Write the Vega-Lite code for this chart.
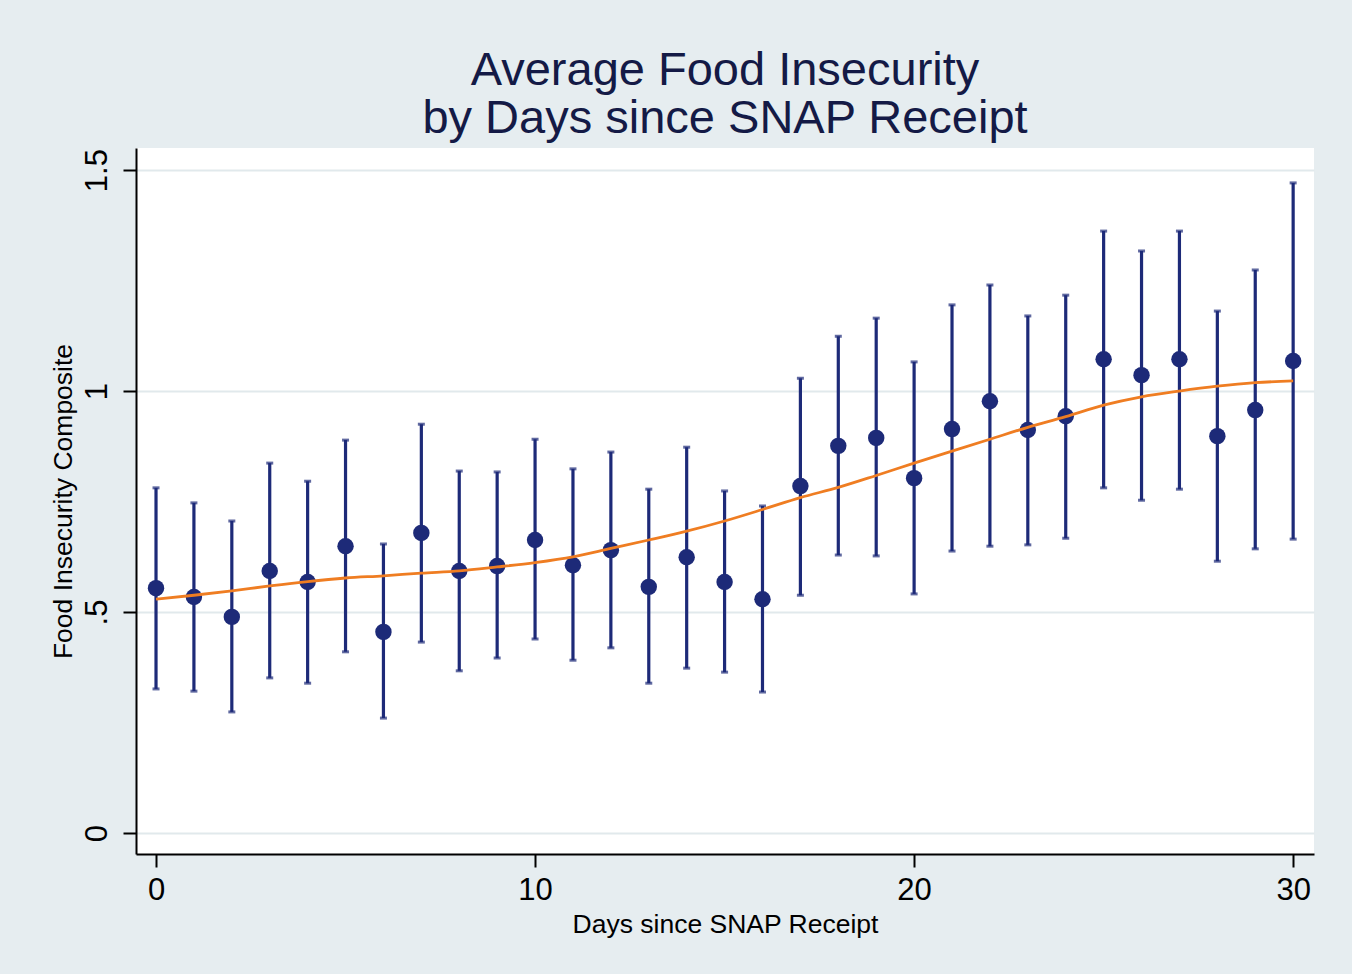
{
  "$schema": "https://vega.github.io/schema/vega-lite/v6.json",
  "autosize": {"type": "none"},
  "padding": {"left": 136, "top": 148, "right": 38, "bottom": 120},
  "width": 1178,
  "height": 706,
  "background": "#e6edf0",
  "config": {
    "view": {"fill": "white", "stroke": null},
    "font": "Liberation Sans",
    "axis": {
      "domainColor": "black", "domainWidth": 2,
      "tickColor": "black", "tickWidth": 2, "tickSize": 13,
      "labelColor": "black", "labelFontSize": 31, "labelFont": "Liberation Sans",
      "titleColor": "black", "titleFontSize": 26.5, "titleFontWeight": "normal", "titleFont": "Liberation Sans"
    }
  },
  "title": {
    "text": ["Average Food Insecurity", "by Days since SNAP Receipt"],
    "fontSize": 47, "fontWeight": "normal", "color": "#141a46",
    "font": "Liberation Sans", "anchor": "middle", "lineHeight": 48, "offset": 5
  },
  "data": {
    "values": [
      {"day": 0, "mean": 0.554, "lo": 0.326, "hi": 0.781, "fit": 0.529},
      {"day": 1, "mean": 0.534, "lo": 0.321, "hi": 0.747, "fit": 0.538},
      {"day": 2, "mean": 0.489, "lo": 0.274, "hi": 0.706, "fit": 0.548},
      {"day": 3, "mean": 0.593, "lo": 0.351, "hi": 0.837, "fit": 0.559},
      {"day": 4, "mean": 0.568, "lo": 0.339, "hi": 0.796, "fit": 0.569},
      {"day": 5, "mean": 0.649, "lo": 0.410, "hi": 0.889, "fit": 0.577},
      {"day": 6, "mean": 0.455, "lo": 0.260, "hi": 0.654, "fit": 0.582},
      {"day": 7, "mean": 0.679, "lo": 0.432, "hi": 0.925, "fit": 0.588},
      {"day": 8, "mean": 0.593, "lo": 0.367, "hi": 0.819, "fit": 0.593},
      {"day": 9, "mean": 0.604, "lo": 0.396, "hi": 0.817, "fit": 0.602},
      {"day": 10, "mean": 0.663, "lo": 0.439, "hi": 0.891, "fit": 0.612},
      {"day": 11, "mean": 0.606, "lo": 0.391, "hi": 0.824, "fit": 0.625},
      {"day": 12, "mean": 0.640, "lo": 0.419, "hi": 0.862, "fit": 0.644},
      {"day": 13, "mean": 0.557, "lo": 0.339, "hi": 0.778, "fit": 0.663},
      {"day": 14, "mean": 0.624, "lo": 0.373, "hi": 0.873, "fit": 0.683},
      {"day": 15, "mean": 0.568, "lo": 0.364, "hi": 0.774, "fit": 0.706},
      {"day": 16, "mean": 0.529, "lo": 0.319, "hi": 0.740, "fit": 0.732},
      {"day": 17, "mean": 0.785, "lo": 0.538, "hi": 1.029, "fit": 0.759},
      {"day": 18, "mean": 0.876, "lo": 0.629, "hi": 1.124, "fit": 0.782},
      {"day": 19, "mean": 0.894, "lo": 0.627, "hi": 1.165, "fit": 0.809},
      {"day": 20, "mean": 0.803, "lo": 0.541, "hi": 1.066, "fit": 0.837},
      {"day": 21, "mean": 0.914, "lo": 0.638, "hi": 1.195, "fit": 0.864},
      {"day": 22, "mean": 0.977, "lo": 0.649, "hi": 1.240, "fit": 0.891},
      {"day": 23, "mean": 0.912, "lo": 0.652, "hi": 1.170, "fit": 0.918},
      {"day": 24, "mean": 0.943, "lo": 0.667, "hi": 1.217, "fit": 0.942},
      {"day": 25, "mean": 1.072, "lo": 0.781, "hi": 1.362, "fit": 0.968},
      {"day": 26, "mean": 1.036, "lo": 0.753, "hi": 1.317, "fit": 0.987},
      {"day": 27, "mean": 1.072, "lo": 0.778, "hi": 1.362, "fit": 1.000},
      {"day": 28, "mean": 0.898, "lo": 0.615, "hi": 1.181, "fit": 1.011},
      {"day": 29, "mean": 0.957, "lo": 0.643, "hi": 1.274, "fit": 1.019},
      {"day": 30, "mean": 1.068, "lo": 0.665, "hi": 1.471, "fit": 1.023}
    ]
  },
  "encoding": {
    "x": {
      "field": "day", "type": "quantitative",
      "scale": {"domain": [-0.528, 30.55], "nice": false, "zero": false},
      "axis": {"values": [0, 10, 20, 30], "grid": false, "title": "Days since SNAP Receipt", "labelPadding": 8, "titlePadding": 6, "labelFlush": false}
    }
  },
  "layer": [
    {
      "mark": {"type": "rule", "color": "#1d2a78", "strokeWidth": 3.2},
      "encoding": {
        "y": {
          "field": "lo", "type": "quantitative",
          "scale": {"domain": [-0.0475, 1.55], "nice": false, "zero": false},
          "axis": {
            "values": [0, 0.5, 1, 1.5], "grid": true, "gridColor": "#e1e9ec", "gridWidth": 2,
            "labelAngle": -90, "labelPadding": 10, "labelFlush": false,
            "labelExpr": "datum.value == 0 ? '0' : datum.value == 0.5 ? '.5' : datum.value == 1 ? '1' : '1.5'",
            "title": "Food Insecurity Composite", "titlePadding": 4
          }
        },
        "y2": {"field": "hi"}
      }
    },
    {
      "mark": {"type": "tick", "orient": "horizontal", "color": "#1d2a78", "size": 7, "thickness": 3},
      "encoding": {"y": {"field": "lo", "type": "quantitative"}}
    },
    {
      "mark": {"type": "tick", "orient": "horizontal", "color": "#1d2a78", "size": 7, "thickness": 3},
      "encoding": {"y": {"field": "hi", "type": "quantitative"}}
    },
    {
      "mark": {"type": "circle", "color": "#1d2a78", "opacity": 1, "size": 270},
      "encoding": {"y": {"field": "mean", "type": "quantitative"}}
    },
    {
      "mark": {"type": "line", "color": "#ef7d22", "strokeWidth": 2.8, "interpolate": "monotone"},
      "encoding": {"y": {"field": "fit", "type": "quantitative"}}
    }
  ]
}
